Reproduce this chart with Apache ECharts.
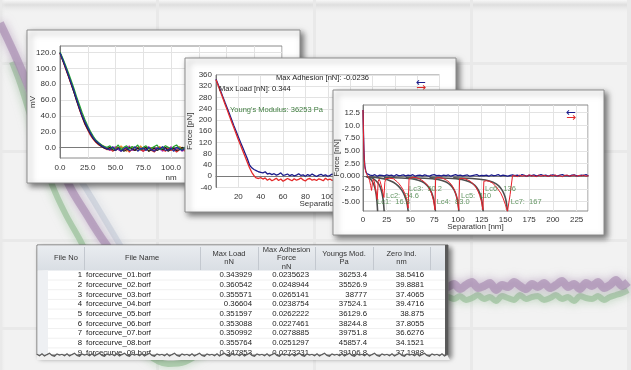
<!DOCTYPE html>
<html><head><meta charset="utf-8">
<script src="https://cdn.jsdelivr.net/npm/echarts/dist/echarts.min.js"></script>
<style>html,body{margin:0;padding:0;background:#f2f2f2}#c{width:631px;height:370px}</style>
</head><body><div id="c"></div>
<script>
// ---------- Background (blurred large chart) ----------
const bgPurple = [[0,23],[15,55],[27,83],[50,140],[70,187],[87,215],[103,240],[125,268],[150,285],[180,290],[260,290],[440,288]];
const bgGreen = [[12,62],[20,83],[27,105],[40,148],[53,187],[66,215],[80,240],[100,280],[125,325],[150,356],[168,364],[185,362],[205,350],[240,325],[300,305],[380,299],[445,297]];
const bgSlate = [[45,115],[60,150],[85,187],[117,240],[135,268],[160,288],[200,294],[300,294]];
const bgNoiseX = [448,454,460,466,472,478,484,490,496,502,508,514,520,526,532,538,544,550,556,562,568,574,580,586,592,598,604,610,616,622,628];
const bgNoisePurple = [287,284,289,285,282,288,286,283,290,285,287,282,286,289,284,287,283,288,285,281,287,284,289,283,286,282,288,285,280,286,282];
const bgNoiseGreen = [297,299,296,300,298,295,299,297,301,296,298,300,295,299,297,296,300,298,295,299,297,301,296,298,299,296,300,297,295,293,290];

// ---------- Panel 1 : raw curves (mV vs nm) ----------
const p1Sep = [0,2.5,5,7.5,10,12.5,15,17.5,20,22.5,25,27.5,30,32.5,35,37.5,40,42.5,45,47.5,50,52.5,55,57.5,60,62.5,65,67.5,70,72.5,75,77.5,80,82.5,85,87.5,90,92.5,95,97.5,100,102.5,105,107.5,110,112.5,115,117.5,120,122.5,125,127.5];
const p1CurveA = [120,111,102,92,82,72,61,50,40,32,25,18,12,8,5,2,0,-2,-3,1,-4,-1,-5,-2,0,-4,-3,1,-5,-2,-1,-4,0,-3,-5,-1,-2,1,-4,-3,-1,-5,0,-2,-4,-1,-3,-5,0,-2,-4,-1];
const p1CurveB = [121,113,104,95,85,75,64,54,44,35,27,20,14,9,6,3,1,0,2,-2,-1,3,-3,0,2,-2,1,-1,3,-3,0,2,-2,-1,1,3,-3,-1,2,0,-2,1,3,-1,-3,0,2,-2,1,-1,3,0];
const p1CurveC = [119,110,100,90,80,70,59,48,38,29,22,15,10,6,3,1,-1,-3,-1,-5,-2,0,-4,-3,-1,-6,-2,-4,0,-3,-5,-2,-1,-4,-6,-2,0,-3,-5,-1,-4,-2,-6,-3,-1,-4,-2,-5,-3,0,-4,-2];
const p1CurveD = [120,111,101,91,81,71,60,49,39,31,23,16,11,7,4,2,0,-1,-4,-2,1,-3,-5,-1,-2,2,-4,-3,0,-1,-5,-2,1,-3,-4,0,-2,-5,-1,-3,1,-4,-2,0,-5,-3,-1,2,-4,-2,-3,0];
const p1CurveE = [120,110,101,91,81,70,59,49,39,30,23,17,11,7,4,1,-1,-2,0,-3,-4,-1,-2,-5,-3,0,-2,-4,-1,-3,-2,0,-5,-3,-1,-4,-2,-3,0,-5,-2,-1,-4,-3,0,-2,-5,-1,-3,-4,-2,-1];
const p1CurveF = [120,111,102,92,82,72,61,51,41,32,24,18,12,8,5,3,1,-2,-4,0,-1,-3,2,-2,-5,-1,0,-3,-4,2,-2,-1,-5,0,-3,-2,1,-4,-1,-3,0,-2,-4,1,-1,-5,-2,0,-3,-1,-4,1];
const p1YTicks = [0,20,40,60,80,100,120];

// ---------- Panel 2 : force [pN] vs separation ----------
const p2Sep = [0,2,4,6,8,10,12,14,16,18,20,22,24,26,28,30,32,34,36,38,40,42,44,46,48,50,52,54,56,58,60,62,64,66,68,70,72,74,76,78,80,82,84,86,88,90,92,94,96,98,100,102,104,106,108,110,112,114,116,118,120];
const p2Approach = [345,325,305,284,263,243,222,201,180,160,140,120,101,82,63,40,30,24,20,16,14,12,16,8,10,6,9,4,7,12,3,5,8,2,6,1,4,9,3,5,0,6,2,8,3,-1,4,7,2,5,0,3,8,1,4,6,-1,3,7,2,5];
const p2Retract = [343,322,300,279,257,236,214,193,172,151,130,110,90,70,50,30,14,2,-6,-8,-5,-10,-6,-14,-9,-16,-12,-7,-15,-10,-18,-13,-8,-12,-16,-9,-14,-11,-6,-13,-17,-10,-8,-14,-11,-15,-9,-12,-16,-7,-13,-10,-15,-11,-8,-14,-12,-6,-10,-13,-9];
const p2Notes = ['Max Adhesion [nN]: -0.0236', 'Max Load [nN]: 0.344', "Young's Modulus: 36253 Pa"];

// ---------- Panel 3 : force [nN] vs separation, WLC fits ----------
const p3ApproachSep = [0,0.5,1,1.5,2,3,4,5,7.5,10,12.5,15,17.5,20,22.5,25,27.5,30,32.5,35,37.5,40,42.5,45,47.5,50,52.5,55,57.5,60,62.5,65,67.5,70,72.5,75,77.5,80,82.5,85,87.5,90,92.5,95,97.5,100,102.5,105,107.5,110,112.5,115,117.5,120,122.5,125,127.5,130,132.5,135,137.5,140,142.5,145,147.5,150,152.5,155,157.5,160,162.5,165,167.5,170,172.5,175,177.5,180,182.5,185,187.5,190,192.5,195,197.5,200,202.5,205,207.5,210,212.5,215,217.5,220,222.5,225,227.5,230,232.5,235,237.5];
const p3ApproachForce = [13,9,5.5,3.2,2.0,1.0,0.5,0.3,
0.2,0.1,0.3,0.0,0.2,0.15,0.05,0.25,0.1,0.2,
0.0,0.3,0.1,0.15,0.25,0.05,0.2,0.1,0.3,0.0,
0.15,0.2,0.05,0.25,0.1,0.0,0.2,0.3,0.1,0.15,
0.05,0.2,0.1,0.25,0.0,0.15,0.3,0.1,0.2,0.05,
0.15,0.25,0.0,0.1,0.2,0.3,0.05,0.15,0.1,0.2,
0.0,0.25,0.1,0.15,0.3,0.05,0.2,0.1,0.0,0.15,
0.25,0.1,0.2,0.05,0.3,0.15,0.0,0.2,0.1,0.25,
0.05,0.15,0.3,0.1,0.2,0.0,0.15,0.25,0.1,0.05,
0.2,0.3,0.1,0.15,0.0,0.2,0.25,0.05,0.1,0.2,
0.15,0.3,0.05];
const p3Retract = [[0,13],[0.5,8.5],[1,4.5],[1.5,2.8],[2,1.6],[3,0.8],[4,0.3],[5,0.1],[6,-0.3],[7,-0.9],[8,-1.8],[9,-2.8],[10,-1.2],[11,-0.6],[12,-1.1],[13,-2.2],[14,-3.4],[15,-4.6],[16,-1.0],[17,-0.6],[18,-1.0],[19,-1.7],[20,-2.4],[21,-3.2],[22,-4.2],[23,-1.2],[24,-0.5],[26,-0.3],[28,-0.4],[30,-0.3],[32,-0.5],[34,-0.8],[36,-1.1],[38,-1.5],[40,-2.0],[42,-2.6],[44,-3.4],[46,-4.6],[47.5,-6.3],[48.5,-0.5],[50,-0.3],[53,-0.2],[56,-0.3],[59,-0.5],[62,-0.8],[65,-1.2],[68,-1.8],[70,-2.5],[72,-3.3],[74,-4.6],[75.8,-6.6],[76.5,-0.4],[79,-0.3],[82,-0.3],[85,-0.5],[88,-0.8],[91,-1.2],[94,-1.9],[96,-2.6],[98,-3.6],[99.5,-4.8],[100.8,-6.6],[101.8,-0.5],[104,-0.4],[107,-0.5],[110,-0.7],[113,-1.0],[116,-1.5],[119,-2.2],[121,-2.9],[123,-3.8],[124.8,-5.0],[126.3,-6.6],[127.3,-1.0],[130,-0.9],[133,-1.0],[136,-1.3],[139,-1.8],[142,-2.5],[145,-3.3],[147.5,-4.3],[150,-5.6],[152.2,-6.9],[155,-3.6],[157.5,0.1],
[160,0.1],[162.5,-0.1],[165,0.2],[167.5,0.0],[170,0.15],[172.5,-0.05],[175,0.25],[177.5,0.05],[180,0.1],[182.5,-0.1],[185,0.2],[187.5,0.0],[190,0.15],[192.5,0.1],[195,-0.05],[197.5,0.2],[200,0.05],[202.5,0.25],[205,0.0],[207.5,0.1],[210,-0.1],[212.5,0.15],[215,0.2],[217.5,0.0],[220,0.1],[222.5,0.25],[225,-0.05],[227.5,0.15],[230,0.05],[232.5,0.2],[235,0.0],[237.5,0.1]];
const wlcFits = [
 [[3,-0.05],[6,-0.3],[9,-0.8],[11,-1.5],[12.5,-2.3],[13.8,-3.5],[14.7,-5],[15.4,-6.9]],
 [[4,-0.1],[9,-0.3],[13,-0.8],[16,-1.4],[18.3,-2.2],[20,-3.3],[21.3,-4.7],[22.3,-6.9]],
 [[5,-0.1],[15,-0.3],[25,-0.65],[32,-1.2],[37,-1.9],[41,-2.8],[44,-3.9],[46.2,-5.2],[47.6,-6.9]],
 [[22,-0.25],[40,-0.35],[54,-0.6],[62,-1.05],[67.5,-1.8],[71.2,-2.8],[73.8,-4.1],[75.3,-5.4],[76.3,-6.9]],
 [[45,-0.3],[65,-0.4],[79,-0.65],[87,-1.1],[92.5,-1.8],[96.2,-2.8],[98.7,-4.1],[100.1,-5.4],[101,-6.9]],
 [[70,-0.3],[90,-0.4],[104,-0.65],[112,-1.1],[117.8,-1.8],[121.7,-2.8],[124.2,-4.1],[125.7,-5.4],[126.6,-6.9]],
 [[95,-0.3],[115,-0.45],[129,-0.75],[137,-1.2],[143,-1.9],[147,-2.9],[149.7,-4.1],[151.2,-5.4],[152.2,-6.9]]
];
const lcNames = ['Lc1','Lc2','Lc3','Lc4','Lc5','Lc6','Lc7'];
const lcValues = ['16.8','24.6','50.2','83.0','110','136','167'];
const lcAnchors = [[14.7,-5.13],[24.2,-3.9],[48.5,-2.58],[77.6,-5.13],[103.2,-3.9],[128.5,-2.58],[155.6,-5.13]];
const p3YTicks = [-5,-2.5,0,2.5,5,7.5,10,12.5];
const p3YLabels = ['-5.00','-2.50','0.000','2.50','5.00','7.50','10.0','12.5'];

// ---------- Table ----------
const tblHeaders = ['File No','File Name','Max Load\nnN','Max Adhesion\nForce\nnN','Youngs Mod.\nPa','Zero Ind.\nnm'];
const fileNo = [1,2,3,4,5,6,7,8,9];
const fileName = ['forcecurve_01.borf','forcecurve_02.borf','forcecurve_03.borf','forcecurve_04.borf','forcecurve_05.borf','forcecurve_06.borf','forcecurve_07.borf','forcecurve_08.borf','forcecurve_09.borf'];
const maxLoad = [0.343929,0.360542,0.355571,0.36604,0.351597,0.353088,0.350992,0.355764,0.347853];
const maxAdhesion = [0.0235623,0.0248944,0.0265141,0.0238754,0.0262222,0.0227461,0.0278885,0.0251297,0.0273231];
const youngsMod = [36253.4,35526.9,38777,37524.1,36129.6,38244.8,39751.8,45857.4,39106.8];
const zeroInd = [38.5416,39.8881,37.4065,39.4716,38.875,37.8055,36.6276,34.1521,37.1988];

// =====================================================================
const FONT = "'Liberation Sans', Arial, sans-serif";
const NARROW = "'Liberation Sans Narrow', 'Liberation Sans', Arial, sans-serif";
const chart = echarts.init(document.getElementById('c'), null, {renderer: 'canvas'});
const zip = (xs, ys) => xs.map((x, i) => [x, ys[i]]);

const labelStyle = {fontSize: 8, color: '#333', fontFamily: FONT};
const splitStyle = {show: true, lineStyle: {color: '#e3e3e3', width: 1}};
const axLine = {show: true, lineStyle: {color: '#7a7a7a', width: 1}};

function boxRect(x, y, w, h, zl) {
  return {type: 'rect', zlevel: zl, z: 0, shape: {x: x, y: y, width: w, height: h},
    style: {fill: '#ffffff', stroke: '#8c8c8c', lineWidth: 1,
      shadowBlur: 6, shadowOffsetX: 3, shadowOffsetY: 3, shadowColor: 'rgba(0,0,0,0.55)'}};
}
function txt(x, y, s, opts, zl) {
  return Object.assign({type: 'text', zlevel: zl, z: 20, x: x, y: y,
    style: Object.assign({text: s, fontSize: 7.5, fontFamily: FONT, fill: '#222', verticalAlign: 'middle'}, opts || {})});
}

const graphic = [];
// background decorations
graphic.push({type: 'rect', zlevel: 0, z: -10, shape: {x: 0, y: 0, width: 631, height: 14},
  style: {fill: new echarts.graphic.LinearGradient(0, 0, 0, 1, [
    {offset: 0, color: '#f7f7f7'}, {offset: 0.35, color: '#dedede'}, {offset: 1, color: 'rgba(242,242,242,0)'}])}});
graphic.push({type: 'rect', zlevel: 0, z: -10, shape: {x: 0, y: 0, width: 6, height: 370},
  style: {fill: new echarts.graphic.LinearGradient(0, 0, 1, 0, [
    {offset: 0, color: '#e2e2e2'}, {offset: 1, color: 'rgba(242,242,242,0)'}])}});

// panel boxes
graphic.push(boxRect(27, 30, 273, 153, 1));
graphic.push(boxRect(185, 58, 271, 154, 2));
graphic.push(boxRect(333, 90, 271, 145, 3));

// panel 2 annotations & legend arrows
graphic.push(txt(276, 78, p2Notes[0], {}, 2));
graphic.push(txt(219, 89, p2Notes[1], {}, 2));
graphic.push(txt(230, 110, p2Notes[2], {fill: '#3f7d3f'}, 2));
graphic.push(txt(416, 82.5, '\u2190', {fontSize: 12, fontFamily: 'DejaVu Sans', fill: '#1c1c8a'}, 2));
graphic.push(txt(416, 87.5, '\u2192', {fontSize: 12, fontFamily: 'DejaVu Sans', fill: '#e32b2b'}, 2));
// panel 3 legend arrows
graphic.push(txt(566, 112.5, '\u2190', {fontSize: 12, fontFamily: 'DejaVu Sans', fill: '#1c1c8a'}, 3));
graphic.push(txt(566, 118, '\u2192', {fontSize: 12, fontFamily: 'DejaVu Sans', fill: '#e32b2b'}, 3));

// ---- table ----
const TZ = 4;
const tX = 37, tY = 245, tW = 411, tH = 110;
const colB = [48, 84, 200, 258, 315, 373, 430];
graphic.push({type: 'rect', zlevel: TZ, z: 0, shape: {x: tX, y: tY, width: tW, height: tH},
  style: {fill: '#ffffff', stroke: '#6e6e6e', lineWidth: 1, shadowBlur: 5, shadowOffsetX: 3, shadowOffsetY: 3, shadowColor: 'rgba(0,0,0,0.5)'}});
graphic.push({type: 'rect', zlevel: TZ, z: 1, shape: {x: tX + 0.5, y: tY + 0.5, width: tW - 1, height: 25},
  style: {fill: new echarts.graphic.LinearGradient(0, 0, 0, 1, [{offset: 0, color: '#e9ecf0'}, {offset: 1, color: '#d9dee4'}])}});
graphic.push({type: 'rect', zlevel: TZ, z: 1, shape: {x: tX + 0.5, y: tY + 25.5, width: 10.5, height: tH - 26},
  style: {fill: '#eef0f3'}});
for (let i = 1; i < colB.length; i++) {
  graphic.push({type: 'line', zlevel: TZ, z: 2, shape: {x1: colB[i] + 0.5, y1: tY + 2, x2: colB[i] + 0.5, y2: tY + 25},
    style: {stroke: '#c3c8cf', lineWidth: 1}});
}
for (let r = 0; r < fileNo.length; r++) {
  const yl = 280 + r * 9.7;
  graphic.push({type: 'line', zlevel: TZ, z: 2, shape: {x1: 48, y1: yl, x2: 445, y2: yl}, style: {stroke: '#f0f0f0', lineWidth: 1}});
}
graphic.push({type: 'rect', zlevel: TZ, z: 3, shape: {x: 445, y: tY, width: 3, height: tH}, style: {fill: '#5a5a5a'}});
const hdrCx = [66, 142, 229, 286.5, 344, 401.5];
tblHeaders.forEach((h, i) => {
  graphic.push(txt(hdrCx[i], 258, h, {align: 'center', lineHeight: 8.5, fontSize: 7.5, fontFamily: NARROW, fill: '#333'}, TZ));
});
fileNo.forEach((n, r) => {
  const y = 275 + r * 9.7;
  const st = {fontSize: 7.8, fontFamily: NARROW, fill: '#222'};
  graphic.push(txt(82, y, String(n), Object.assign({align: 'right'}, st), TZ));
  graphic.push(txt(86, y, fileName[r], Object.assign({align: 'left'}, st), TZ));
  graphic.push(txt(252, y, String(maxLoad[r]), Object.assign({align: 'right'}, st), TZ));
  graphic.push(txt(309, y, String(maxAdhesion[r]), Object.assign({align: 'right'}, st), TZ));
  graphic.push(txt(367, y, String(youngsMod[r]), Object.assign({align: 'right'}, st), TZ));
  graphic.push(txt(424, y, String(zeroInd[r]), Object.assign({align: 'right'}, st), TZ));
});
// torn bottom edge
const tearPattern = [0, 1.4, -0.6, 1.8, 0.3, -1.0, 1.1, 2.0, -0.4, 0.8];
const tearPts = [];
for (let x = tX, k = 0; x <= tX + tW; x += 2.5, k++) tearPts.push([x, 354.3 + tearPattern[k % tearPattern.length]]);
graphic.push({type: 'polygon', zlevel: TZ, z: 30,
  shape: {points: tearPts.concat([[tX + tW + 2, 360], [tX, 360]])}, style: {fill: '#f0f0f0'}});
graphic.push({type: 'polyline', zlevel: TZ, z: 31, shape: {points: tearPts}, style: {stroke: '#5c5c5c', lineWidth: 1.2}});

// ---------- series ----------
const series = [];
const bgLine = (data, color, w, op) => ({type: 'line', xAxisIndex: 0, yAxisIndex: 0, zlevel: 0, z: 1, data: data,
  showSymbol: false, silent: true, smooth: 0.3,
  lineStyle: {color: color, width: w, opacity: op, shadowBlur: 10, shadowColor: color}});
series.push(bgLine(bgSlate, '#b8c0d0', 6, 0.45));
series.push(bgLine(bgGreen.concat(zip(bgNoiseX, bgNoiseGreen)), '#8fbb8f', 6, 0.6));
series.push(bgLine(bgPurple.concat(zip(bgNoiseX, bgNoisePurple)), '#a386ae', 8, 0.6));

const p1Curves = [p1CurveF, p1CurveD, p1CurveC, p1CurveE, p1CurveB, p1CurveA];
const p1Colors = ['#e08a1c', '#c035c0', '#d62828', '#222222', '#23a32a', '#1f2a9a'];
p1Curves.forEach((c, i) => series.push({type: 'line', xAxisIndex: 1, yAxisIndex: 1, zlevel: 1, z: 3,
  data: zip(p1Sep, c), showSymbol: false, lineStyle: {color: p1Colors[i], width: 1.2}}));

series.push({type: 'line', xAxisIndex: 2, yAxisIndex: 2, zlevel: 2, z: 3, data: zip(p2Sep, p2Approach),
  showSymbol: false, lineStyle: {color: '#1c1c8a', width: 1.3}});
series.push({type: 'line', xAxisIndex: 2, yAxisIndex: 2, zlevel: 2, z: 3, data: zip(p2Sep, p2Retract),
  showSymbol: false, lineStyle: {color: '#e32b2b', width: 1.3}});

wlcFits.forEach(f => series.push({type: 'line', xAxisIndex: 3, yAxisIndex: 3, zlevel: 3, z: 3, data: f,
  smooth: 0.35, showSymbol: false, lineStyle: {color: '#4f4f4f', width: 1.6}}));
series.push({type: 'line', xAxisIndex: 3, yAxisIndex: 3, zlevel: 3, z: 4, data: zip(p3ApproachSep, p3ApproachForce),
  showSymbol: false, lineStyle: {color: '#1c1c8a', width: 1.2}});
series.push({type: 'line', xAxisIndex: 3, yAxisIndex: 3, zlevel: 3, z: 5, data: p3Retract,
  showSymbol: false, lineStyle: {color: '#e8202a', width: 1}});
series.push({type: 'scatter', xAxisIndex: 3, yAxisIndex: 3, zlevel: 3, z: 6, symbolSize: 0,
  data: lcAnchors.map((a, i) => ({value: a, name: lcNames[i] + ':  ' + lcValues[i]})),
  label: {show: true, position: 'right', distance: 0, formatter: p => p.name, fontSize: 7.5, fontFamily: FONT, color: '#3f7d3f'}});

// ---------- axes ----------
const hidden = {show: false};
const bgSplit = {show: true, lineStyle: {color: '#e9e9e9', width: 3}};
const xAxis = [
  {type: 'value', gridIndex: 0, min: 0, max: 631, interval: 157, zlevel: 0, z: 0,
    axisLine: hidden, axisTick: hidden, axisLabel: hidden, splitLine: bgSplit},
  {type: 'value', gridIndex: 1, min: 0, max: 200, interval: 25, zlevel: 1, z: 2,
    axisLine: axLine, axisTick: hidden, splitLine: splitStyle,
    axisLabel: Object.assign({margin: 6, formatter: v => v.toFixed(1)}, labelStyle),
    name: 'nm', nameLocation: 'middle', nameGap: 16, nameMoveOverlap: false, nameTextStyle: labelStyle},
  {type: 'value', gridIndex: 2, min: 0, max: 200, interval: 20, zlevel: 2, z: 2,
    axisLine: axLine, axisTick: hidden, splitLine: splitStyle,
    axisLabel: Object.assign({margin: 5, showMinLabel: false}, labelStyle),
    name: 'Separation [nm]', nameLocation: 'middle', nameGap: 12, nameMoveOverlap: false, nameTextStyle: labelStyle},
  {type: 'value', gridIndex: 3, min: 0, max: 237, interval: 25, zlevel: 3, z: 2,
    axisLine: axLine, axisTick: hidden, splitLine: splitStyle,
    axisLabel: Object.assign({margin: 5, showMaxLabel: false}, labelStyle),
    name: 'Separation [nm]', nameLocation: 'middle', nameGap: 12, nameMoveOverlap: false, nameTextStyle: labelStyle}
];
const yAxis = [
  {type: 'value', gridIndex: 0, min: 0, max: 370, inverse: true, zlevel: 0, z: 0,
    axisLine: hidden, axisLabel: hidden, axisTick: {show: false, customValues: [63, 151, 240, 328]},
    splitLine: bgSplit},
  {type: 'value', gridIndex: 1, min: -13.5, max: 128.5, zlevel: 1, z: 2,
    axisLine: axLine, axisTick: {show: false, customValues: p1YTicks}, splitLine: splitStyle,
    axisLabel: Object.assign({margin: 4, customValues: p1YTicks, formatter: v => v.toFixed(1)}, labelStyle),
    name: 'mV', nameLocation: 'middle', nameGap: 23, nameMoveOverlap: false, nameRotate: 90, nameTextStyle: labelStyle},
  {type: 'value', gridIndex: 2, min: -40, max: 360, interval: 40, zlevel: 2, z: 2,
    axisLine: axLine, axisTick: hidden, splitLine: splitStyle,
    axisLabel: Object.assign({margin: 4}, labelStyle),
    name: 'Force [pN]', nameLocation: 'middle', nameGap: 22, nameMoveOverlap: false, nameRotate: 90, nameTextStyle: labelStyle},
  {type: 'value', gridIndex: 3, min: -6.85, max: 14, zlevel: 3, z: 2,
    axisLine: axLine, axisTick: {show: false, customValues: p3YTicks}, splitLine: splitStyle,
    axisLabel: Object.assign({margin: 3, customValues: p3YTicks,
      formatter: v => p3YLabels[p3YTicks.indexOf(v)] || String(v)}, labelStyle),
    name: 'Force [nN]', nameLocation: 'middle', nameGap: 22, nameMoveOverlap: false, nameRotate: 90, nameTextStyle: labelStyle}
];

const gridBox = (l, t, w, h, zl) => ({left: l, top: t, width: w, height: h, show: true, zlevel: zl, z: 1,
  backgroundColor: '#ffffff', borderColor: '#8a8a8a', borderWidth: 1});

chart.setOption({
  animation: false,
  backgroundColor: '#f2f2f2',
  grid: [
    {left: 0, top: 0, width: 631, height: 370, show: false, zlevel: 0},
    gridBox(60, 46, 222, 112, 1),
    gridBox(216, 75, 223.5, 112.5, 2),
    gridBox(363, 105, 225, 106, 3)
  ],
  xAxis: xAxis,
  yAxis: yAxis,
  series: series,
  graphic: {elements: graphic}
});
</script></body></html>
